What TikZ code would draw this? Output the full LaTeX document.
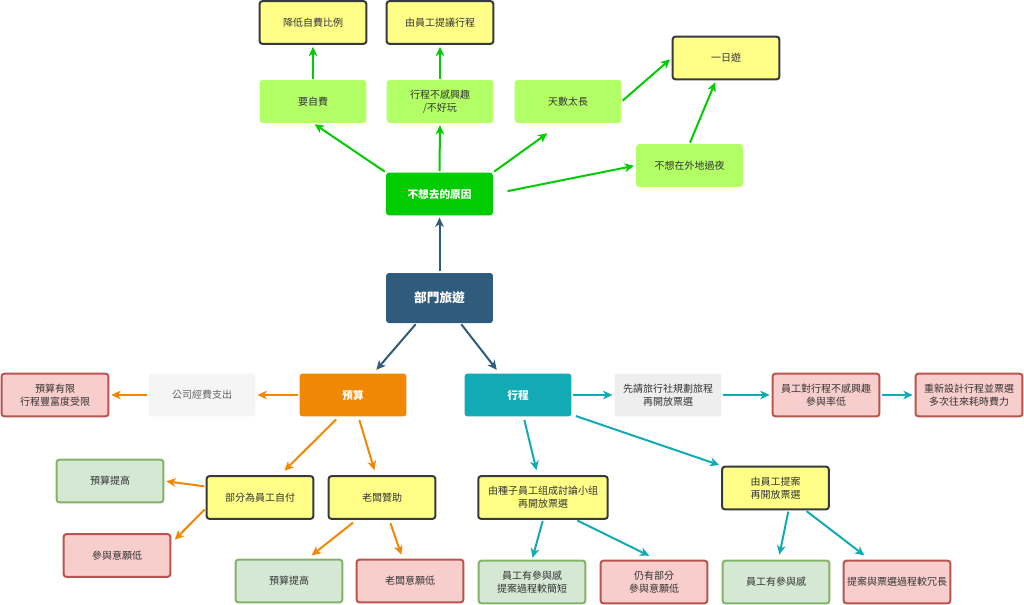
\documentclass[tikz,border=0pt]{standalone}
\usepackage{fontspec}
\setmainfont{Noto Sans CJK TC}
\usetikzlibrary{arrows.meta,calc}

\definecolor{greenmain}{HTML}{00CC00}
\definecolor{greenlite}{HTML}{B3FF66}
\definecolor{yellowbox}{HTML}{FFFF88}
\definecolor{yellowline}{HTML}{36393D}
\definecolor{navybox}{HTML}{2F5B7C}
\definecolor{orangebox}{HTML}{F08705}
\definecolor{tealbox}{HTML}{12AAB5}
\definecolor{redfill}{HTML}{F8CECC}
\definecolor{redline}{HTML}{B85450}
\definecolor{okfill}{HTML}{D5E8D4}
\definecolor{okline}{HTML}{82B366}
\definecolor{grayfill}{HTML}{F5F5F5}
\definecolor{grayfilldark}{HTML}{EEEEEE}
\definecolor{graytext}{HTML}{666666}
\definecolor{inktext}{HTML}{333333}

\begin{document}
\begin{tikzpicture}[x=0.75pt,y=-0.75pt,>={Stealth[length=7pt,width=6.5pt,inset=2pt]},
    box/.style={rectangle,rounded corners=2pt,minimum width=80pt,minimum height=32pt,align=center,inner sep=1pt,text=inktext,font=\fontsize{7.5}{9.5}\selectfont},
    main/.style={box,fill=#1,text=white,font=\bfseries\fontsize{8}{10}\selectfont},
    reason/.style={box,fill=greenlite},
    fix/.style={box,fill=yellowbox,draw=yellowline,line width=1.5pt},
    bad/.style={box,fill=redfill,draw=redline,line width=1.5pt},
    good/.style={box,fill=okfill,draw=okline,line width=1.5pt},
    note/.style={box,fill=grayfill,text=graytext},
    link/.style={->,line width=1.5pt,draw=#1,shorten >=1.5pt,shorten <=1pt}]
  \useasboundingbox (0,0) rectangle (1024,604);

  % centre
  \node[main=navybox,minimum height=37.5pt,font=\bfseries\fontsize{9.5}{11}\selectfont] (trip) at (439.5,298){部門旅遊};

  % reasons
  \node[main=greenmain] (why) at (439.5,194){不想去的原因};
  \node[reason] (selfpay) at (313,101.5){要自費};
  \node[reason] (boring) at (440,101.5){行程不感興趣\\/不好玩};
  \node[reason] (toolong) at (568,101.5){天數太長};
  \node[reason] (overnight) at (689.5,165.5){不想在外地過夜};
  \node[fix] (cut) at (313,22.5){降低自費比例};
  \node[fix] (propose) at (440,22.5){由員工提議行程};
  \node[fix] (oneday) at (726,58){一日遊};

  % budget
  \node[main=orangebox] (budget) at (353,395){預算};
  \node[note] (company) at (202,395){公司經費支出};
  \node[bad] (limited) at (55,395){預算有限\\行程豐富度受限};
  \node[fix] (split) at (260,497.5){部分為員工自付};
  \node[fix] (boss) at (382,497.5){老闆贊助};
  \node[good] (raiseA) at (110,481){預算提高};
  \node[bad] (lowA) at (117,555.5){參與意願低};
  \node[good] (raiseB) at (289,581){預算提高};
  \node[bad] (bosslow) at (410,581){老闆意願低};

  % schedule
  \node[main=tealbox] (plan) at (518,395){行程};
  \node[note,fill=grayfilldark,text=inktext] (agency) at (668,395){先請旅行社規劃旅程\\再開放票選};
  \node[bad] (nointerest) at (826,395){員工對行程不感興趣\\參與率低};
  \node[bad] (redo) at (969,395){重新設計行程並票選\\多次往來耗時費力};
  \node[fix,minimum width=97pt] (seed) at (543,497.5){由種子員工组成討論小组\\再開放票選};
  \node[fix] (emp) at (775.5,488){由員工提案\\再開放票選};
  \node[good] (good1) at (532,582){員工有參與感\\提案過程較簡短};
  \node[bad] (some) at (654,582){仍有部分\\參與意願低};
  \node[good] (good2) at (776,582){員工有參與感};
  \node[bad] (slow) at (897,582){提案與票選過程較冗長};

  % links
  \draw[link=navybox] (trip.north) -- (why.south);
  \draw[link=navybox] ($(trip.south)+(-23,0)$) -- ($(budget.north)+(22,-2)$);
  \draw[link=navybox] ($(trip.south)+(21,0)$) -- ($(plan.north)+(-20,-2)$);

  \draw[link=greenmain] (why.north west) -- (selfpay.south);
  \draw[link=greenmain] (why.north) -- (boring.south);
  \draw[link=greenmain] (why.north east) -- ($(toolong.south)+(-19,9)$);
  \draw[link=greenmain,shorten <=11pt] (why.east) -- (overnight.west);
  \draw[link=greenmain] (toolong.east) -- (oneday.west);
  \draw[link=greenmain] (overnight.north) -- ($(oneday.south)+(-10,0)$);
  \draw[link=greenmain] (selfpay.north) -- (cut.south);
  \draw[link=greenmain] (boring.north) -- (propose.south);

  \draw[link=orangebox] (budget.west) -- (company.east);
  \draw[link=orangebox] (company.west) -- (limited.east);
  \draw[link=orangebox] ($(budget.south)+(-16,2)$) -- ($(split.north)+(23,-3)$);
  \draw[link=orangebox] ($(budget.south)+(6,2)$) -- ($(boss.north)+(-7,-3)$);
  \draw[link=orangebox] ($(split.west)+(0,-11)$) -- (raiseA.east);
  \draw[link=orangebox] ($(split.west)+(0,11)$) -- ($(lowA.north east)+(2,8)$);
  \draw[link=orangebox] ($(boss.south)+(-28,2)$) -- ($(raiseB.north)+(21,-2)$);
  \draw[link=orangebox] ($(boss.south)+(8,2)$) -- ($(bosslow.north)+(-8,-2)$);

  \draw[link=tealbox] (plan.east) -- (agency.west);
  \draw[link=tealbox] (agency.east) -- (nointerest.west);
  \draw[link=tealbox] (nointerest.east) -- (redo.west);
  \draw[link=tealbox] ($(plan.south)+(6,2)$) -- ($(seed.north)+(-6,-3)$);
  \draw[link=tealbox] ($(plan.south east)+(3,-1)$) -- (emp.north west);
  \draw[link=tealbox] (seed.south) -- (good1.north);
  \draw[link=tealbox] ($(seed.south)+(33,0)$) -- ($(some.north)+(-3,-3)$);
  \draw[link=tealbox] ($(emp.south)+(13,0)$) -- ($(good2.north)+(3,-3)$);
  \draw[link=tealbox] ($(emp.south)+(30,0)$) -- ($(slow.north)+(-31,-3)$);
\end{tikzpicture}
\end{document}
